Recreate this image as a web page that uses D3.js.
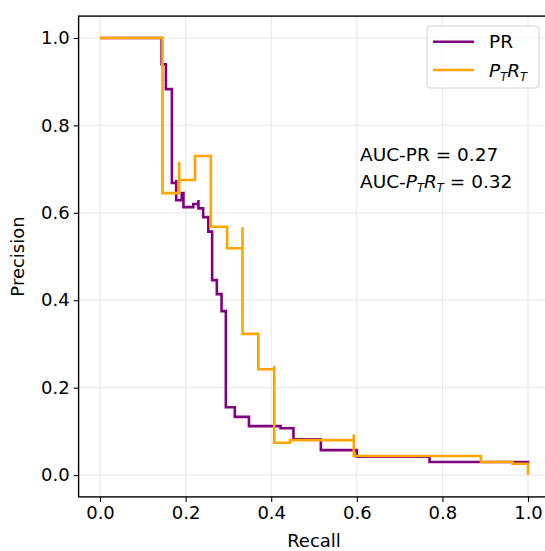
<!DOCTYPE html>
<html>
<head>
<meta charset="utf-8">
<script src="https://cdn.jsdelivr.net/npm/d3@7"></script>
<style>
  body { margin: 0; background: #fff; }
  svg { display: block; font-family: "DejaVu Sans", sans-serif; }
</style>
</head>
<body>
<svg width="545" height="551"></svg>
<script>
// precision / recall step curves
const prRecall = [0, 0.144, 0.154, 0.168, 0.178, 0.178, 0.191, 0.195, 0.218, 0.230, 0.230, 0.241, 0.253,
  0.262, 0.273, 0.284, 0.294, 0.315, 0.348, 0.422, 0.452, 0.516, 0.600, 0.770, 1.0];
const prPrecision = [1.0, 0.94, 0.883, 0.668, 0.675, 0.629, 0.645, 0.613, 0.620, 0.629, 0.610, 0.590, 0.557,
  0.446, 0.414, 0.375, 0.155, 0.133, 0.112, 0.107, 0.082, 0.057, 0.042, 0.030, 0.023];

const ptrtRecall = [0, 0.146, 0.185, 0.185, 0.222, 0.259, 0.297, 0.333, 0.333, 0.370, 0.407, 0.407,
  0.444, 0.593, 0.593, 0.890, 0.964, 1.0];
const ptrtPrecision = [1.0, 0.645, 0.716, 0.675, 0.730, 0.568, 0.519, 0.567, 0.323, 0.242, 0.250, 0.074,
  0.080, 0.093, 0.0435, 0.030, 0.026, 0.0];

const xTicks = [0, 0.2, 0.4, 0.6, 0.8, 1.0];
const yTicks = [0, 0.2, 0.4, 0.6, 0.8, 1.0];

const svg = d3.select('svg');
const fs = 18;
const afs = 18.5;   // annotation / legend text
const sfs = 11.5;   // subscripts

// axes box (matplotlib style 5% margins)
const x = d3.scaleLinear().domain([-0.05, 1.05]).range([78.6, 549.4]);
const y = d3.scaleLinear().domain([-0.05, 1.05]).range([496.9, 16.1]);

// grid
const grid = svg.append('g');
grid.selectAll('line.gx').data(xTicks).enter().append('line')
  .attr('x1', d => x(d)).attr('x2', d => x(d))
  .attr('y1', y(-0.05)).attr('y2', y(1.05))
  .attr('stroke', '#ebebeb').attr('stroke-width', 1.3);
grid.selectAll('line.gy').data(yTicks).enter().append('line')
  .attr('y1', d => y(d)).attr('y2', d => y(d))
  .attr('x1', x(-0.05)).attr('x2', x(1.05))
  .attr('stroke', '#ebebeb').attr('stroke-width', 1.3);

// curves
const toPts = (r, p) => r.map((d, i) => [d, p[i]]);
const line = d3.line().x(d => x(d[0])).y(d => y(d[1])).curve(d3.curveStepAfter);

svg.append('path').datum(toPts(prRecall, prPrecision))
  .attr('d', line).attr('fill', 'none')
  .attr('stroke', '#800080').attr('stroke-width', 2.6);
svg.append('path').datum(toPts(ptrtRecall, ptrtPrecision))
  .attr('d', line).attr('fill', 'none')
  .attr('stroke', '#ffa500').attr('stroke-width', 2.6);

// axes
const xAxis = d3.axisBottom(x).tickValues(xTicks).tickFormat(d3.format('.1f')).tickSize(5).tickPadding(4);
const yAxis = d3.axisLeft(y).tickValues(yTicks).tickFormat(d3.format('.1f')).tickSize(5).tickPadding(4);

const gx = svg.append('g').attr('transform', `translate(0,${y(-0.05)})`).call(xAxis);
const gy = svg.append('g').attr('transform', `translate(${x(-0.05)},0)`).call(yAxis);
[gx, gy].forEach(g => {
  g.select('.domain').remove();
  g.selectAll('.tick line').attr('stroke', '#000').attr('stroke-width', 1.1);
  g.selectAll('.tick text').attr('font-size', fs).attr('font-family', 'DejaVu Sans').attr('fill', '#000');
});

// spines
svg.append('rect')
  .attr('x', x(-0.05)).attr('y', y(1.05))
  .attr('width', x(1.05) - x(-0.05)).attr('height', y(-0.05) - y(1.05))
  .attr('fill', 'none').attr('stroke', '#000').attr('stroke-width', 1.4);

// axis labels
svg.append('text').text('Recall')
  .attr('x', x(0.5)).attr('y', 547)
  .attr('text-anchor', 'middle').attr('font-size', fs);
svg.append('text').text('Precision')
  .attr('transform', `translate(24,${y(0.5)}) rotate(-90)`)
  .attr('text-anchor', 'middle').attr('font-size', fs);

// annotation
const ann = svg.append('g').attr('font-size', afs);
ann.append('text').attr('x', 360).attr('y', 161).text('AUC-PR = 0.27');
const a2 = ann.append('text').attr('x', 360).attr('y', 188);
a2.append('tspan').text('AUC-');
a2.append('tspan').attr('font-style', 'italic').text('P');
a2.append('tspan').attr('font-style', 'italic').attr('font-size', sfs).attr('dy', 4).text('T');
a2.append('tspan').attr('font-style', 'italic').attr('dy', -4).text('R');
a2.append('tspan').attr('font-style', 'italic').attr('font-size', sfs).attr('dy', 4).text('T');
a2.append('tspan').attr('dy', -4).text(' = 0.32');

// legend
const legend = svg.append('g');
legend.append('rect')
  .attr('x', 427).attr('y', 26).attr('width', 112).attr('height', 62)
  .attr('rx', 3).attr('fill', '#fff').attr('fill-opacity', 0.8)
  .attr('stroke', '#d0d0d0').attr('stroke-width', 1);
const items = [
  { color: '#800080', parts: [['PR', false]] },
  { color: '#ffa500', parts: [['P', false], ['T', true], ['R', false], ['T', true]] }
];
items.forEach((it, i) => {
  const yy = 41.7 + i * 28.3;
  legend.append('line').attr('x1', 433).attr('x2', 474).attr('y1', yy).attr('y2', yy)
    .attr('stroke', it.color).attr('stroke-width', 2.6);
  const t = legend.append('text').attr('x', 489).attr('y', yy + 6.5).attr('font-size', afs);
  let sub = false;
  it.parts.forEach(([s, isSub]) => {
    const ts = t.append('tspan').text(s);
    if (i === 1) ts.attr('font-style', 'italic');
    if (isSub && !sub) { ts.attr('dy', 4).attr('font-size', sfs); sub = true; }
    else if (!isSub && sub) { ts.attr('dy', -4); sub = false; }
    else if (isSub) ts.attr('font-size', sfs);
  });
});
</script>
</body>
</html>
